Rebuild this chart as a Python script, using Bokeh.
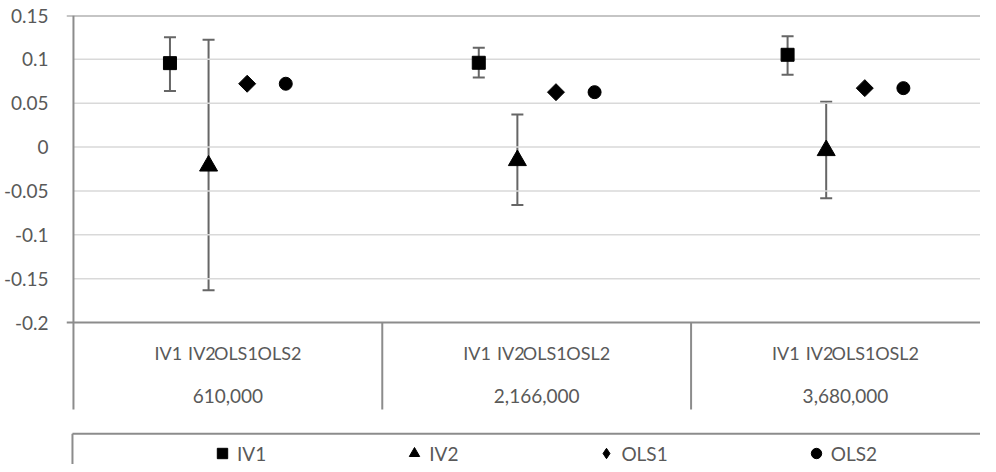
import math
from bokeh.plotting import figure
from bokeh.models import (ColumnDataSource, Whisker, TeeHead, FixedTicker, Legend,
                          LegendItem, Range1d)
from bokeh.core.properties import value
from bokeh.embed import file_html
from bokeh.resources import INLINE

# ---------------- data ----------------
groups = ["610,000", "2,166,000", "3,680,000"]
series = ["IV1", "IV2", "OLS1", "OLS2"]
sub_labels = [["IV1", "IV2", "OLS1", "OLS2"],
              ["IV1", "IV2", "OLS1", "OSL2"],
              ["IV1", "IV2", "OLS1", "OSL2"]]
iv1 = [0.0957, 0.0961, 0.1052]
iv1_lo = [0.0638, 0.0794, 0.0825]
iv1_hi = [0.1253, 0.1132, 0.1264]
iv2 = [-0.0214, -0.0152, -0.0038]
iv2_lo = [-0.1632, -0.0661, -0.0584]
iv2_hi = [0.1223, 0.0372, 0.0517]
ols1 = [0.0722, 0.0626, 0.0672]
ols2 = [0.0722, 0.0626, 0.0672]
ytick_vals = [-0.2, -0.15, -0.1, -0.05, 0, 0.05, 0.1, 0.15]
ytick_labels = ["-0.2", "-0.15", "-0.1", "-0.05", "0", "0.05", "0.1", "0.15"]

# ---------------- layout constants ----------------
W, H = 980, 464
GROUP_PX = 310.5                 # pixels per category group
PX_Y = 0.35 / 307.0              # data units per pixel (vertical)
FRAME_TOP = 15
FRAME_LEFT = 61
y_top = 0.15
y_bottom = y_top - (H - FRAME_TOP) * PX_Y
x_start = -7 / GROUP_PX
x_end = x_start + (W - FRAME_LEFT) / GROUP_PX

def ypx(px_below_min):   # data y for a pixel distance below the -0.2 line
    return -0.2 - px_below_min * PX_Y

series_dx = [-0.1875, -0.0625, 0.0625, 0.1875]
label_dx = [-0.193, -0.084, 0.026, 0.167]

FONT = value("Lato")
FSIZE = "19px"
TXT = "#595959"
GRID = "#d9d9d9"
AXIS = "#8c8c8c"
ERR = "#666666"

p = figure(width=W, height=H, output_backend="svg", toolbar_location=None,
           x_range=Range1d(x_start, x_end), y_range=Range1d(y_bottom, y_top),
           x_axis_location=None, min_border_left=FRAME_LEFT, min_border_top=FRAME_TOP,
           min_border_right=0, min_border_bottom=0)
p.outline_line_color = None
p.xgrid.visible = False
p.ygrid.visible = False
p.background_fill_color = "white"

ax = p.yaxis[0]
ax.ticker = FixedTicker(ticks=ytick_vals)
ax.major_label_overrides = dict(zip(ytick_vals, ytick_labels))
ax.axis_line_color = None
ax.major_tick_line_color = None
ax.minor_tick_line_color = None
ax.major_label_standoff = 12
ax.major_label_text_font = "Lato"
ax.major_label_text_font_size = FSIZE
ax.major_label_text_color = TXT

# gridlines (inner)
inner = [v for v in ytick_vals if v not in (min(ytick_vals), max(ytick_vals))]
p.segment(x0=[0] * len(inner), x1=[x_end] * len(inner), y0=inner, y1=inner,
          line_color=GRID, line_width=1.5)
# top & bottom dark lines with outside stub
edge = [min(ytick_vals), max(ytick_vals)]
p.segment(x0=[x_start] * 2, x1=[x_end] * 2, y0=edge, y1=edge, line_color=AXIS, line_width=2)
# left vertical line & group separators
cat_bottom = ypx(87)
p.segment(x0=[0], x1=[0], y0=[y_top], y1=[cat_bottom], line_color=AXIS, line_width=2)
sep = list(range(1, len(groups) + 1))
p.segment(x0=sep, x1=sep, y0=[-0.2] * len(sep), y1=[cat_bottom] * len(sep),
          line_color=AXIS, line_width=2)

# category labels
gx = [i + 0.5 for i in range(len(groups))]
p.text(x=gx, y=[ypx(73)] * len(groups), text=groups, text_align="center",
       text_baseline="middle", text_font=FONT, text_font_size=FSIZE, text_color=TXT)
sx, st = [], []
for i, labs in enumerate(sub_labels):
    for j, lab in enumerate(labs):
        sx.append(i + 0.5 + label_dx[j])
        st.append(lab)
p.text(x=sx, y=[ypx(30.5)] * len(sx), text=st, text_align="center",
       text_baseline="middle", text_font=FONT, text_font_size="18px", text_color=TXT)

# legend box
lx = -1 / GROUP_PX
ltop = ypx(111.3)
p.segment(x0=[lx], x1=[x_end], y0=[ltop], y1=[ltop], line_color=AXIS, line_width=2)
p.segment(x0=[lx], x1=[lx], y0=[ltop], y1=[y_bottom], line_color=AXIS, line_width=2)

# series
def xs(k):
    return [i + 0.5 + series_dx[k] for i in range(len(groups))]

s_iv1 = ColumnDataSource(dict(x=xs(0), y=iv1, lo=iv1_lo, hi=iv1_hi))
s_iv2 = ColumnDataSource(dict(x=xs(1), y=iv2, lo=iv2_lo, hi=iv2_hi))
s_ols1 = ColumnDataSource(dict(x=xs(2), y=ols1))
s_ols2 = ColumnDataSource(dict(x=xs(3), y=ols2))

for src in (s_iv1, s_iv2):
    w = Whisker(source=src, base="x", upper="hi", lower="lo", dimension="height",
                line_color=ERR, line_width=2,
                upper_head=TeeHead(size=12, line_color=ERR, line_width=2),
                lower_head=TeeHead(size=12, line_color=ERR, line_width=2))
    p.add_layout(w)

r1 = p.scatter("x", "y", source=s_iv1, marker="square", size=13, color="black")
r2 = p.scatter("x", "y", source=s_iv2, marker="triangle", size=18, color="black")
r3 = p.scatter("x", "y", source=s_ols1, marker="square", angle=math.pi / 4, size=12, color="black")
r4 = p.scatter("x", "y", source=s_ols2, marker="circle", size=13, color="black")
# legend swatch for the rotated-square series (legend swatches ignore angle);
# its single point is NaN, so nothing is drawn in the plot area
r3_key = p.scatter(x=[float("nan")], y=[float("nan")], marker="diamond", color="black")

legend = Legend(items=[LegendItem(label=series[0], renderers=[r1]),
                       LegendItem(label=series[1], renderers=[r2]),
                       LegendItem(label=series[2], renderers=[r3_key]),
                       LegendItem(label=series[3], renderers=[r4])],
                orientation="horizontal", location=(143, -2), padding=0, margin=0,
                spacing=135, label_standoff=2, glyph_width=26, glyph_height=26,
                border_line_color=None, background_fill_alpha=0,
                label_text_font="Lato", label_text_font_size=FSIZE, label_text_color=TXT)
p.add_layout(legend)

open("out.html", "w").write(file_html(p, INLINE))
